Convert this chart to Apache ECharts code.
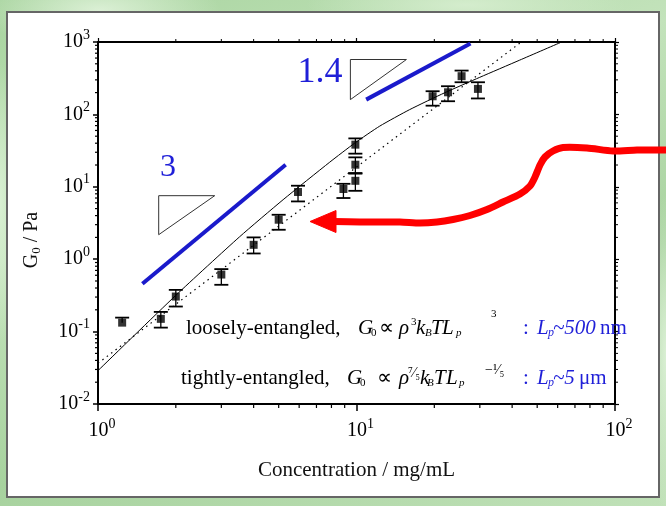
<!DOCTYPE html>
<html>
<head>
<meta charset="utf-8">
<script src="https://cdn.jsdelivr.net/npm/echarts@6/dist/echarts.min.js"></script>
<style>
  html, body { margin: 0; padding: 0; }
  body {
    width: 666px; height: 506px; overflow: hidden; position: relative;
    background-color: #b4dbab;
    background-image:
      radial-gradient(ellipse 120px 40px at 15% 2%, rgba(230,246,225,0.8), rgba(230,246,225,0) 100%),
      radial-gradient(ellipse 160px 30px at 70% 1%, rgba(215,238,208,0.9), rgba(215,238,208,0) 100%),
      radial-gradient(ellipse 20px 140px at 0% 40%, rgba(220,242,214,0.9), rgba(220,242,214,0) 100%),
      radial-gradient(ellipse 20px 160px at 100% 70%, rgba(222,242,216,0.9), rgba(222,242,216,0) 100%),
      linear-gradient(160deg, #a8d49f 0%, #c3e3bb 35%, #a7d29e 65%, #c0e1b8 100%);
  }
  #panel {
    position: absolute; left: 6px; top: 11px; width: 650px; height: 483px;
    background: #fff; border: 2px solid #666;
  }
  #chart { position: absolute; left: 0; top: 0; width: 666px; height: 506px; }
</style>
</head>
<body>
<div id="panel"></div>
<div id="chart"></div>
<script>
// Plateau modulus G0 against actin concentration, log-log
const concentration = [1.24, 1.75, 2.0, 3.0, 4.0, 5.0, 5.94, 8.9, 9.9, 9.9, 9.9, 19.7, 22.6, 25.5, 29.5];
const modulus       = [0.133, 0.150, 0.305, 0.614, 1.58, 3.51, 8.47, 9.32, 12.1, 20.2, 38.2, 178, 202, 337, 225];
const errLow        = [0.133, 0.1135, 0.222, 0.443, 1.2, 2.55, 6.28, 7.0, 8.8, 15.5, 28.7, 132, 152, 278, 166];
const errHigh       = [0.156, 0.187, 0.377, 0.73, 2.0, 4.11, 10.35, 11.0, 15.2, 25.5, 46.6, 209, 245, 403, 278];

// crossover model (solid curve)
const fitX = [1, 2.0, 3.53, 5.2, 7.88, 9.84, 12.3, 16.06, 21.94, 29.97, 42.8, 62.2];
const fitY = [0.0289, 0.317, 2.04, 6.63, 21.9, 40.1, 68.9, 116.5, 199, 325, 562, 1000];

// single power law (dotted line)
const powX = [1, 43.4];
const powY = [0.0365, 1000];

// slope guides and their triangles
const guide3X = [1.485, 5.32];
const guide3Y = [0.457, 20.2];
const guide14X = [10.9, 27.6];
const guide14Y = [160, 952];
const tri3X = [1.717, 2.828, 1.717, 1.717];
const tri3Y = [7.54, 7.54, 2.18, 7.54];
const tri14X = [9.47, 15.6, 9.47, 9.47];
const tri14Y = [573, 573, 160, 573];

// axis ticks
const xMajor = [1, 10, 100];
const yMajor = [0.01, 0.1, 1, 10, 100, 1000];
const mantissas = [2, 3, 4, 5, 6, 7, 8, 9];
const xMinor = [];
[1, 10].forEach(d => mantissas.forEach(m => xMinor.push(m * d)));
const yMinor = [];
[0.01, 0.1, 1, 10, 100].forEach(d => mantissas.forEach(m => yMinor.push(m * d)));

const SERIF = '"Liberation Serif", "Times New Roman", Times, serif';
const BLUE_LINE = '#1a1acb';
const BLUE_TEXT = '#1f1fd8';

const pairs = (xs, ys) => xs.map((x, i) => [x, ys[i]]);
const expOf = v => Math.round(Math.log10(v));

const labelRich = {
  b: { fontFamily: SERIF, fontSize: 20, color: '#000', lineHeight: 26 },
  bx: { fontFamily: SERIF, fontSize: 20, color: '#000', lineHeight: 26, padding: [0, 0, 0, 8] },
  e: { fontFamily: SERIF, fontSize: 14, color: '#000', lineHeight: 26, padding: [0, 0, 14, 0] }
};

const chart = echarts.init(document.getElementById('chart'), null, { renderer: 'canvas' });

// formula annotations built from small text pieces
function piece(t, x, y, kind) {
  const st = {
    n:   { size: 21, italic: false, color: '#000' },
    i:   { size: 21, italic: true,  color: '#000' },
    s:   { size: 11, italic: false, color: '#000' },
    si:  { size: 11, italic: true,  color: '#000' },
    f:   { size: 14, italic: false, color: '#000' },
    bn:  { size: 21, italic: false, color: BLUE_TEXT },
    bi:  { size: 21, italic: true,  color: BLUE_TEXT },
    bsi: { size: 12, italic: true,  color: BLUE_TEXT }
  }[kind];
  return {
    type: 'text', x: x, y: y, z: 60, silent: true,
    style: {
      text: t, fill: st.color, fontFamily: SERIF, fontSize: st.size,
      fontStyle: st.italic ? 'italic' : 'normal',
      align: 'left', verticalAlign: 'middle'
    }
  };
}
function formula(parts, cy) {
  return parts.map(p => piece(p[0], p[1], cy + p[2], p[3]));
}

const line1 = [
  ['loosely-entangled,', 186, 0, 'n'], ['G', 358, 0, 'i'], ['0', 371, 5, 's'],
  ['\u221D', 379, 0, 'n'], ['\u03C1', 399, 0, 'i'], ['3', 411, -6, 's'],
  ['k', 416, 0, 'i'], ['B', 425, 5, 'si'], ['T', 431, 0, 'i'], ['L', 442, 0, 'i'],
  ['p', 456, 5, 'si'], ['3', 491, -14, 's'],
  [':', 523, 0, 'bn'], ['L', 537, 0, 'bi'], ['p', 548, 5, 'bsi'], ['~500', 553, 0, 'bi'], ['nm', 600, 0, 'bn']
];
const line2 = [
  ['tightly-entangled,', 181, 0, 'n'], ['G', 347, 0, 'i'], ['0', 360, 5, 's'],
  ['\u221D', 377, 0, 'n'], ['\u03C1', 399, 0, 'i'], ['\u2077\u2044\u2085', 408, -5, 'f'],
  ['k', 420, 0, 'i'], ['B', 427, 5, 'si'], ['T', 434, 0, 'i'], ['L', 446, 0, 'i'],
  ['p', 459, 5, 'si'], ['\u2212\u00B9\u2044\u2085', 485, -8, 'f'],
  [':', 523, 0, 'bn'], ['L', 537, 0, 'bi'], ['p', 548, 5, 'bsi'], ['~5', 553, 0, 'bi'], ['\u03BCm', 579, 0, 'bn']
];

// hand-drawn pointer arrow
const arrowPath = [[666, 150], [637, 150], [613, 151], [587, 148], [563, 147.5], [553, 151], [545, 157],
  [540, 165], [535, 177], [530, 186], [520, 194], [503, 202], [487, 209.5], [470, 215.5], [453, 219.5],
  [437, 222], [420, 223], [400, 222], [360, 222], [334, 221.5]];
const arrowHead = [[310, 221.5], [336, 210.5], [336, 232.5]];

const logAxisBase = {
  type: 'log', logBase: 10,
  splitLine: { show: false }, minorTick: { show: false }, minorSplitLine: { show: false },
  axisLine: { show: true, lineStyle: { color: '#000', width: 2 } }
};

const option = {
  animation: false,
  backgroundColor: 'transparent',
  grid: { left: 98, top: 42, width: 517, height: 362, containLabel: false, outerBoundsMode: 'none' },
  xAxis: [
    Object.assign({}, logAxisBase, {
      min: 1, max: 100, position: 'bottom',
      axisTick: { show: true, inside: false, length: 7, lineStyle: { color: '#000', width: 1.5 } },
      axisLabel: {
        show: true, margin: 14, showMinLabel: true, showMaxLabel: true,
        formatter: v => '{bx|10}{e|' + expOf(v) + '}', rich: labelRich
      },
      name: 'Concentration / mg/mL', nameLocation: 'middle', nameGap: 56,
      nameTextStyle: { fontFamily: SERIF, fontSize: 21, color: '#111' }
    }),
    Object.assign({}, logAxisBase, {
      min: 1, max: 100, position: 'top',
      axisTick: { show: true, inside: false, length: 4, lineStyle: { color: '#000', width: 1.2 } },
      axisLabel: { show: false }
    })
  ],
  yAxis: [
    Object.assign({}, logAxisBase, {
      min: 0.01, max: 1000, position: 'left',
      axisTick: { show: true, inside: false, length: 5, lineStyle: { color: '#000', width: 1.5 } },
      axisLabel: {
        show: true, margin: 8, showMinLabel: true, showMaxLabel: true,
        formatter: v => '{b|10}{e|' + expOf(v) + '}', rich: labelRich
      }
    }),
    Object.assign({}, logAxisBase, {
      min: 0.01, max: 1000, position: 'right',
      axisTick: { show: true, inside: false, length: 4, lineStyle: { color: '#000', width: 1.2 } },
      axisLabel: { show: false }
    })
  ],
  series: [
    // minor ticks along bottom/top
    {
      type: 'custom', silent: true, clip: false, z: 1,
      data: xMinor.map(v => [v, 0.01]),
      renderItem: (params, api) => {
        const b = api.coord([api.value(0), 0.01]);
        const t = api.coord([api.value(0), 1000]);
        return { type: 'group', children: [
          { type: 'line', shape: { x1: b[0], y1: b[1], x2: b[0], y2: b[1] + 4 }, style: { stroke: '#000', lineWidth: 1.2 } },
          { type: 'line', shape: { x1: t[0], y1: t[1], x2: t[0], y2: t[1] - 3 }, style: { stroke: '#000', lineWidth: 1 } }
        ] };
      }
    },
    // minor ticks along left/right
    {
      type: 'custom', silent: true, clip: false, z: 1,
      data: yMinor.map(v => [1, v]),
      renderItem: (params, api) => {
        const l = api.coord([1, api.value(1)]);
        const r = api.coord([100, api.value(1)]);
        return { type: 'group', children: [
          { type: 'line', shape: { x1: l[0], y1: l[1], x2: l[0] - 3, y2: l[1] }, style: { stroke: '#000', lineWidth: 1.2 } },
          { type: 'line', shape: { x1: r[0], y1: r[1], x2: r[0] + 3, y2: r[1] }, style: { stroke: '#000', lineWidth: 1 } }
        ] };
      }
    },
    {
      name: 'power law', type: 'line', data: pairs(powX, powY), showSymbol: false, symbol: 'none',
      lineStyle: { color: '#000', width: 1.2, type: [1.5, 4] }, z: 3
    },
    {
      name: 'crossover', type: 'line', data: pairs(fitX, fitY), showSymbol: false, symbol: 'none', smooth: 0.2,
      lineStyle: { color: '#000', width: 1 }, z: 3
    },
    {
      name: 'slope 3', type: 'line', data: pairs(guide3X, guide3Y), symbol: 'none',
      lineStyle: { color: BLUE_LINE, width: 4 }, z: 4
    },
    {
      name: 'slope 1.4', type: 'line', data: pairs(guide14X, guide14Y), symbol: 'none',
      lineStyle: { color: BLUE_LINE, width: 4 }, z: 4
    },
    {
      name: 'tri 3', type: 'line', data: pairs(tri3X, tri3Y), symbol: 'none',
      lineStyle: { color: '#333', width: 1 }, z: 4
    },
    {
      name: 'tri 1.4', type: 'line', data: pairs(tri14X, tri14Y), symbol: 'none',
      lineStyle: { color: '#333', width: 1 }, z: 4
    },
    {
      name: 'error', type: 'custom', z: 5,
      data: concentration.map((c, i) => [c, modulus[i], errLow[i], errHigh[i]]),
      encode: { x: 0, y: 1 },
      renderItem: (params, api) => {
        const x = api.value(0), v = api.value(1), lo = api.value(2), hi = api.value(3);
        const pHi = api.coord([x, hi]);
        const pLo = api.coord([x, lo]);
        const hw = 7;
        const kids = [
          { type: 'line', shape: { x1: pHi[0], y1: pHi[1], x2: pLo[0], y2: pLo[1] }, style: { stroke: '#000', lineWidth: 1.3 } },
          { type: 'line', shape: { x1: pHi[0] - hw, y1: pHi[1], x2: pHi[0] + hw, y2: pHi[1] }, style: { stroke: '#000', lineWidth: 1.8 } }
        ];
        if (lo < v) {
          kids.push({ type: 'line', shape: { x1: pLo[0] - hw, y1: pLo[1], x2: pLo[0] + hw, y2: pLo[1] }, style: { stroke: '#000', lineWidth: 1.8 } });
        }
        return { type: 'group', children: kids };
      }
    },
    {
      name: 'G0', type: 'scatter', data: pairs(concentration, modulus), symbol: 'rect', symbolSize: 8,
      itemStyle: { color: '#000' }, z: 6
    }
  ],
  graphic: [
    {
      type: 'text', x: 32, y: 240, rotation: Math.PI / 2, z: 60, silent: true,
      style: {
        text: '{a|G}{s|0}{a| / Pa}', align: 'center', verticalAlign: 'middle',
        rich: {
          a: { fontFamily: SERIF, fontSize: 20, fill: '#111', lineHeight: 26 },
          s: { fontFamily: SERIF, fontSize: 13, fill: '#111', lineHeight: 26, padding: [10, 0, 0, 0] }
        }
      }
    },
    {
      type: 'text', x: 168, y: 168, z: 60, silent: true,
      style: { text: '3', fill: BLUE_TEXT, fontFamily: SERIF, fontSize: 32, align: 'center', verticalAlign: 'middle' }
    },
    {
      type: 'text', x: 320, y: 73, z: 60, silent: true,
      style: { text: '1.4', fill: BLUE_TEXT, fontFamily: SERIF, fontSize: 36, align: 'center', verticalAlign: 'middle' }
    },
    {
      type: 'polyline', z: 70, silent: true,
      shape: { points: arrowPath, smooth: 0.25 },
      style: { stroke: '#ff0000', lineWidth: 7, fill: null, lineJoin: 'round', lineCap: 'butt' }
    },
    {
      type: 'polygon', z: 70, silent: true,
      shape: { points: arrowHead },
      style: { fill: '#ff0000', stroke: '#ff0000', lineWidth: 1 }
    }
  ].concat(formula(line1, 328)).concat(formula(line2, 378))
};

chart.setOption(option);
</script>
</body>
</html>
